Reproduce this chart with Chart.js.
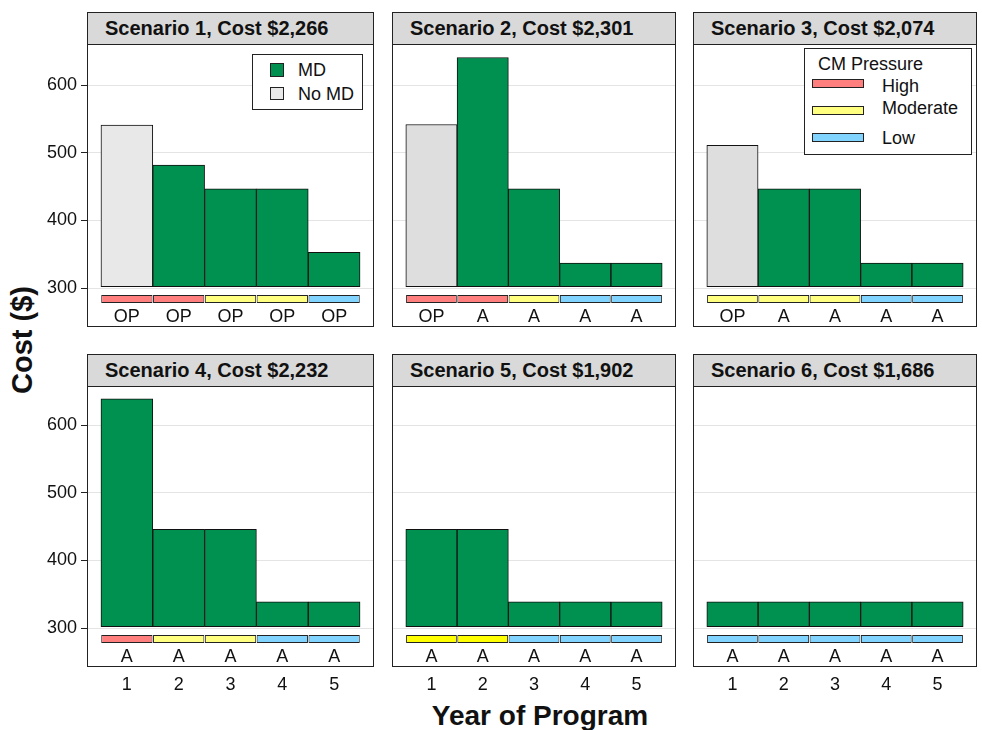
<!DOCTYPE html>
<html>
<head>
<meta charset="utf-8">
<script src="https://cdn.jsdelivr.net/npm/chart.js@4.4.1/dist/chart.umd.min.js"></script>
<style>
body{margin:0;width:982px;height:730px;position:relative;background:#fff;overflow:hidden;
  font-family:"Liberation Sans",Arial,sans-serif;color:#111}
.frame{position:absolute;border:1px solid #222;box-sizing:border-box;background:#fff}
.head{position:absolute;left:0;right:0;top:0;height:32px;background:#d9d9d9;border-bottom:1px solid #222;
  box-sizing:border-box;font-weight:bold;font-size:20px;line-height:31px;padding-left:17px;white-space:nowrap}
canvas{position:absolute}
.legend{position:absolute;border:1px solid #222;background:#fff;box-sizing:border-box;font-size:18px}
.legend div{position:absolute;white-space:nowrap}
.sw{border:1px solid #222;box-sizing:border-box}
.ytitle{position:absolute;left:22px;top:340px;transform:translate(-50%,-50%) rotate(-90deg);
  font-weight:bold;font-size:29px;white-space:nowrap}
.xtitle{position:absolute;left:540px;top:716px;transform:translate(-50%,-50%);
  font-weight:bold;font-size:28px;white-space:nowrap}
</style>
</head>
<body>
<div class="ytitle">Cost ($)</div>
<div class="xtitle">Year of Program</div>
<script>
// data
var years = [1, 2, 3, 4, 5];
var scenarioNames = ['Scenario 1', 'Scenario 2', 'Scenario 3', 'Scenario 4', 'Scenario 5', 'Scenario 6'];
var scenarioCosts = ['$2,266', '$2,301', '$2,074', '$2,232', '$1,902', '$1,686'];
var costByScenario = [
  [541, 482, 447, 447, 353],
  [542, 641, 447, 337, 337],
  [511, 447, 447, 337, 337],
  [639, 446, 446, 339, 339],
  [446, 446, 339, 339, 339],
  [339, 339, 339, 339, 339]
];
var mdByScenario = [
  ['No MD', 'MD', 'MD', 'MD', 'MD'],
  ['No MD', 'MD', 'MD', 'MD', 'MD'],
  ['No MD', 'MD', 'MD', 'MD', 'MD'],
  ['MD', 'MD', 'MD', 'MD', 'MD'],
  ['MD', 'MD', 'MD', 'MD', 'MD'],
  ['MD', 'MD', 'MD', 'MD', 'MD']
];
var pressureByScenario = [
  ['High', 'High', 'Moderate', 'Moderate', 'Low'],
  ['High', 'High', 'Moderate', 'Low', 'Low'],
  ['Moderate', 'Moderate', 'Moderate', 'Low', 'Low'],
  ['High', 'Moderate', 'Moderate', 'Low', 'Low'],
  ['Moderate', 'Moderate', 'Low', 'Low', 'Low'],
  ['Low', 'Low', 'Low', 'Low', 'Low']
];
var actionByScenario = [
  ['OP', 'OP', 'OP', 'OP', 'OP'],
  ['OP', 'A', 'A', 'A', 'A'],
  ['OP', 'A', 'A', 'A', 'A'],
  ['A', 'A', 'A', 'A', 'A'],
  ['A', 'A', 'A', 'A', 'A'],
  ['A', 'A', 'A', 'A', 'A']
];
var yTicks = [300, 400, 500, 600];

// styling / layout
var FONT = '"Liberation Sans", Arial, sans-serif';
var GREEN = '#009150';
var noMdShade = ['#e8e8e8', '#dedede', '#dedede', '#dedede', '#dedede', '#dedede'];
var pressureShade = [
  {High: '#ff7f7f', Moderate: '#ffff80', Low: '#80d4ff'},
  {High: '#ff7f7f', Moderate: '#ffff80', Low: '#80d4ff'},
  {High: '#ff7f7f', Moderate: '#ffff80', Low: '#80d4ff'},
  {High: '#ff7f7f', Moderate: '#ffff80', Low: '#80d4ff'},
  {High: '#ff7f7f', Moderate: '#ffff00', Low: '#80d4ff'},
  {High: '#ff7f7f', Moderate: '#ffff80', Low: '#80d4ff'}
];
var BAR_BASE = 302, STRIP = [278, 290], LABEL_LEVEL = 257;
var colLeft = [87, 392, 693], colW = [287, 284, 284];
var rowTop = [12, 354], rowH = [315, 313];
var rowRange = [[244, 661], [244, 658]];
var Y_AXIS_W = 58, X_AXIS_H = 30;

var actionLabels = {
  id: 'actionLabels',
  afterDatasetsDraw: function(chart, args, opts) {
    var ctx = chart.ctx, xs = chart.scales.x, ys = chart.scales.y;
    ctx.save();
    ctx.font = '18px ' + FONT;
    ctx.fillStyle = '#111';
    ctx.textAlign = 'center';
    ctx.textBaseline = 'middle';
    opts.items.forEach(function(a, i) {
      ctx.fillText(a, xs.getPixelForValue(years[i]), ys.getPixelForValue(LABEL_LEVEL));
    });
    ctx.restore();
  }
};

function makePanel(k) {
  var row = Math.floor(k / 3), col = k % 3;
  var frame = document.createElement('div');
  frame.className = 'frame';
  frame.style.left = colLeft[col] + 'px';
  frame.style.top = rowTop[row] + 'px';
  frame.style.width = colW[col] + 'px';
  frame.style.height = rowH[row] + 'px';
  var head = document.createElement('div');
  head.className = 'head';
  head.textContent = scenarioNames[k] + ', Cost ' + scenarioCosts[k];
  frame.appendChild(head);
  document.body.appendChild(frame);

  var inL = colLeft[col] + 1, inT = rowTop[row] + 32;
  var inW = colW[col] - 2, inH = rowH[row] - 33;
  var yw = col === 0 ? Y_AXIS_W : 0;
  var xh = row === 1 ? X_AXIS_H : 0;
  var cv = document.createElement('canvas');
  cv.width = inW + yw; cv.height = inH + xh;
  cv.style.left = (inL - yw) + 'px';
  cv.style.top = inT + 'px';
  cv.style.width = cv.width + 'px';
  cv.style.height = cv.height + 'px';
  document.body.appendChild(cv);

  var costs = costByScenario[k];
  new Chart(cv, {
    type: 'bar',
    data: {
      datasets: [{
        data: years.map(function(yr, i) { return {x: yr, y: [BAR_BASE, costs[i]]}; }),
        backgroundColor: mdByScenario[k].map(function(m) { return m === 'MD' ? GREEN : noMdShade[k]; }),
        borderColor: '#111', borderWidth: 1, borderSkipped: false,
        grouped: false, barPercentage: 1, categoryPercentage: 1
      }, {
        data: years.map(function(yr) { return {x: yr, y: STRIP}; }),
        backgroundColor: pressureByScenario[k].map(function(p) { return pressureShade[k][p]; }),
        borderColor: '#222', borderWidth: 1, borderSkipped: false,
        grouped: false, barPercentage: 0.99, categoryPercentage: 1
      }]
    },
    options: {
      responsive: false, animation: false, devicePixelRatio: 1,
      layout: {padding: 0},
      plugins: {legend: {display: false}, tooltip: {enabled: false},
        actionLabels: {items: actionByScenario[k]}},
      scales: {
        x: {
          type: 'linear', min: 0.25, max: 5.75, offset: false,
          grid: {display: false}, border: {display: false},
          afterBuildTicks: function(s) { s.ticks = years.map(function(v) { return {value: v}; }); },
          afterFit: function(s) { s.height = xh; s.paddingLeft = 0; s.paddingRight = 0; },
          ticks: {display: row === 1, color: '#111', padding: 0, maxRotation: 0,
            font: {size: 18, family: FONT}}
        },
        y: {
          min: rowRange[row][0], max: rowRange[row][1],
          border: {display: false},
          grid: {color: '#e4e4e4', lineWidth: 1, drawTicks: col === 0, tickLength: 7, tickColor: '#222'},
          afterBuildTicks: function(s) { s.ticks = yTicks.map(function(v) { return {value: v}; }); },
          afterFit: function(s) { s.width = yw; s.paddingTop = 0; s.paddingBottom = 0; },
          ticks: {display: col === 0, color: '#111', padding: 4, font: {size: 18, family: FONT}}
        }
      }
    },
    plugins: [actionLabels]
  });
}

for (var k = 0; k < 6; k++) makePanel(k);

// legends drawn over panels 1 and 3
function addLegend(left, top, w, h, items) {
  var box = document.createElement('div');
  box.className = 'legend';
  box.style.left = left + 'px'; box.style.top = top + 'px';
  box.style.width = w + 'px'; box.style.height = h + 'px';
  items.forEach(function(it) {
    var d = document.createElement('div');
    if (it.text !== undefined) {
      d.textContent = it.text;
      d.style.left = it.x + 'px';
      d.style.top = (it.y - 10) + 'px';
      d.style.lineHeight = '20px';
    } else {
      d.className = 'sw';
      d.style.left = it.x + 'px'; d.style.top = it.y + 'px';
      d.style.width = it.w + 'px'; d.style.height = it.h + 'px';
      d.style.background = it.color;
    }
    box.appendChild(d);
  });
  document.body.appendChild(box);
}

addLegend(252, 54, 111, 56, [
  {x: 17, y: 8, w: 14, h: 14, color: GREEN},
  {text: 'MD', x: 45, y: 15},
  {x: 17, y: 32, w: 14, h: 13, color: noMdShade[0]},
  {text: 'No MD', x: 45, y: 39}
]);
addLegend(804, 48, 168, 107, [
  {text: 'CM Pressure', x: 13, y: 15},
  {x: 7, y: 30, w: 52, h: 9, color: pressureShade[0].High},
  {text: 'High', x: 77, y: 37},
  {x: 7, y: 57, w: 52, h: 9, color: pressureShade[0].Moderate},
  {text: 'Moderate', x: 77, y: 59},
  {x: 7, y: 84, w: 52, h: 9, color: pressureShade[0].Low},
  {text: 'Low', x: 77, y: 89}
]);
</script>
</body>
</html>
